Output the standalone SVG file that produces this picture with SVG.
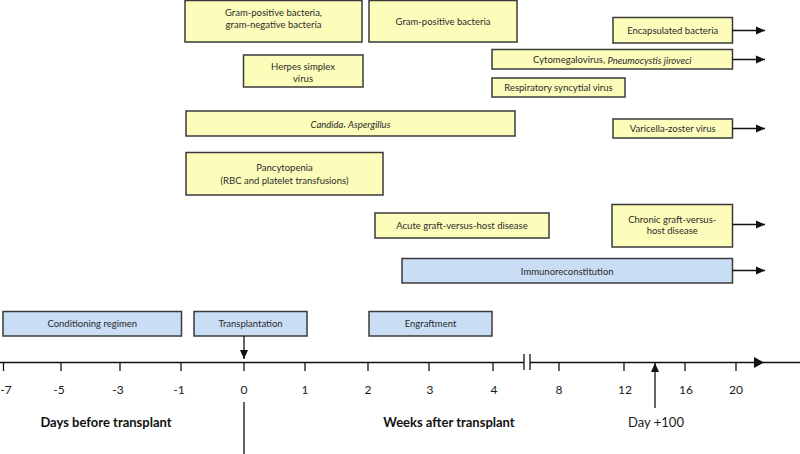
<svg xmlns="http://www.w3.org/2000/svg" width="800" height="454" viewBox="0 0 800 454">
  <style>
    .y { fill: #fdfdbb; stroke: #3a3a3a; stroke-width: 1.5; }
    .b { fill: #c9ddf5; stroke: #3a3a3a; stroke-width: 1.5; }
    .t { font-family: Lato, "Liberation Sans", sans-serif; font-size: 9.5px; fill: #2a2a2a; text-anchor: middle; dominant-baseline: central; }
    .n { font-family: Lato, "Liberation Sans", sans-serif; font-size: 12px; fill: #1a1a1a; text-anchor: middle; dominant-baseline: central; }
    .h { font-family: Lato, "Liberation Sans", sans-serif; font-size: 13px; font-weight: bold; fill: #111; text-anchor: middle; dominant-baseline: central; }
    .i { font-style: italic; }
    .ln { stroke: #111; stroke-width: 1.3; fill: none; }
    .tk { stroke: #111; stroke-width: 1.3; }
  </style>
  <defs>
    <marker id="ah" markerWidth="10" markerHeight="10" refX="9" refY="5" orient="auto" markerUnits="userSpaceOnUse">
      <path d="M0,1 L9,5 L0,9 Z" fill="#111"/>
    </marker>
  </defs>
  <rect width="800" height="454" fill="#ffffff"/>

  <g id="gram-pos-neg">
    <rect class="y" x="185" y="0.5" width="177" height="41.5"/>
    <text class="t" x="273.5" y="12">Gram-positive bacteria,</text>
    <text class="t" x="273.5" y="24">gram-negative bacteria</text>
  </g>
  <g id="gram-pos">
    <rect class="y" x="369" y="0.5" width="148" height="41.5"/>
    <text class="t" x="443" y="21">Gram-positive bacteria</text>
  </g>
  <g id="encapsulated">
    <rect class="y" x="613" y="17.5" width="119.5" height="25.5"/>
    <text class="t" x="672.75" y="30.5">Encapsulated bacteria</text>
  </g>
  <g id="cmv">
    <rect class="y" x="492" y="49.5" width="240.5" height="19.5"/>
    <text class="t" x="612.25" y="59.5">Cytomegalovirus, <tspan class="i">Pneumocystis jiroveci</tspan></text>
  </g>
  <g id="herpes">
    <rect class="y" x="243.5" y="55" width="119.5" height="32"/>
    <text class="t" x="303" y="66.5">Herpes simplex</text>
    <text class="t" x="303" y="78">virus</text>
  </g>
  <g id="rsv">
    <rect class="y" x="492" y="78" width="133" height="19"/>
    <text class="t" x="558.5" y="87.5">Respiratory syncytial virus</text>
  </g>
  <g id="candida">
    <rect class="y" x="186" y="111" width="329" height="25"/>
    <text class="t" x="350.5" y="123.5"><tspan class="i">Candida</tspan>, <tspan class="i">Aspergillus</tspan></text>
  </g>
  <g id="varicella">
    <rect class="y" x="613" y="119" width="119.5" height="19"/>
    <text class="t" x="672.75" y="128.5">Varicella-zoster virus</text>
  </g>
  <g id="pancytopenia">
    <rect class="y" x="186" y="152.5" width="197" height="42.5"/>
    <text class="t" x="284.5" y="167">Pancytopenia</text>
    <text class="t" x="284.5" y="180.5">(RBC and platelet transfusions)</text>
  </g>
  <g id="chronic-gvhd">
    <rect class="y" x="612" y="204.5" width="120.5" height="42.5"/>
    <text class="t" x="672.25" y="219.5">Chronic graft-versus-</text>
    <text class="t" x="672.25" y="230.5">host disease</text>
  </g>
  <g id="acute-gvhd">
    <rect class="y" x="375" y="213" width="174" height="25"/>
    <text class="t" x="462" y="225.5">Acute graft-versus-host disease</text>
  </g>
  <g id="immuno">
    <rect class="b" x="402" y="258.5" width="330.5" height="24.5"/>
    <text class="t" x="567.25" y="271">Immunoreconstitution</text>
  </g>
  <g id="conditioning">
    <rect class="b" x="3" y="311.5" width="178.5" height="24.5"/>
    <text class="t" x="92.25" y="323">Conditioning regimen</text>
  </g>
  <g id="transplantation">
    <rect class="b" x="194" y="311.5" width="113" height="24.5"/>
    <text class="t" x="250.5" y="323">Transplantation</text>
  </g>
  <g id="engraftment">
    <rect class="b" x="369" y="311.5" width="123" height="24.5"/>
    <text class="t" x="430.5" y="323">Engraftment</text>
  </g>

  <g id="axis">
    <line class="ln" x1="0" y1="362.5" x2="524" y2="362.5"/>
    <line class="ln" x1="530" y1="362.5" x2="800" y2="362.5"/>
    <line class="tk" x1="524" y1="354" x2="524" y2="370"/>
    <line class="tk" x1="530" y1="354" x2="530" y2="370"/>
    <path d="M754,357 L764,362.5 L754,368 Z" fill="#111"/>
    <g class="tk">
      <line x1="3.5" y1="362" x2="3.5" y2="371"/>
      <line x1="61" y1="362" x2="61" y2="371"/>
      <line x1="120" y1="362" x2="120" y2="371"/>
      <line x1="181" y1="362" x2="181" y2="371"/>
      <line x1="244" y1="362" x2="244" y2="371"/>
      <line x1="305" y1="362" x2="305" y2="371"/>
      <line x1="368" y1="362" x2="368" y2="371"/>
      <line x1="429" y1="362" x2="429" y2="371"/>
      <line x1="493" y1="362" x2="493" y2="371"/>
      <line x1="559" y1="362" x2="559" y2="371"/>
      <line x1="624" y1="362" x2="624" y2="371"/>
      <line x1="685" y1="362" x2="685" y2="371"/>
      <line x1="736" y1="362" x2="736" y2="371"/>
    </g>
    <text class="n" x="6" y="389">-7</text>
    <text class="n" x="59" y="389">-5</text>
    <text class="n" x="118" y="389">-3</text>
    <text class="n" x="179" y="389">-1</text>
    <text class="n" x="244" y="389">0</text>
    <text class="n" x="305" y="389">1</text>
    <text class="n" x="368" y="389">2</text>
    <text class="n" x="430" y="389">3</text>
    <text class="n" x="494" y="389">4</text>
    <text class="n" x="559" y="389">8</text>
    <text class="n" x="625" y="389">12</text>
    <text class="n" x="686" y="389">16</text>
    <text class="n" x="736" y="389">20</text>
    <line class="ln" x1="244" y1="402" x2="244" y2="454"/>
    <text class="h" x="106" y="422">Days before transplant</text>
    <text class="h" x="449" y="422">Weeks after transplant</text>
    <text class="n" x="656" y="422" style="font-size:13px">Day +100</text>
  </g>

  <g id="connectors">
    <line class="ln" x1="732.5" y1="30.5" x2="765" y2="30.5" marker-end="url(#ah)"/>
    <line class="ln" x1="732.5" y1="59.5" x2="765" y2="59.5" marker-end="url(#ah)"/>
    <line class="ln" x1="732.5" y1="128.5" x2="765" y2="128.5" marker-end="url(#ah)"/>
    <line class="ln" x1="732.5" y1="224.5" x2="765" y2="224.5" marker-end="url(#ah)"/>
    <line class="ln" x1="732.5" y1="270.5" x2="765" y2="270.5" marker-end="url(#ah)"/>
    <line class="ln" x1="244" y1="336" x2="244" y2="359" marker-end="url(#ah)"/>
    <line class="ln" x1="655" y1="408" x2="655" y2="363" marker-end="url(#ah)"/>
  </g>
</svg>
